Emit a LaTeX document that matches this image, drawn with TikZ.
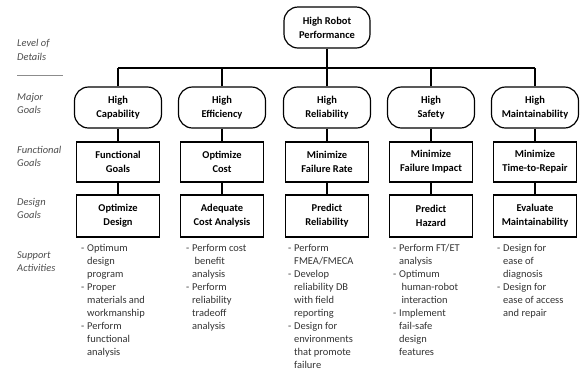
\documentclass[tikz,border=0pt]{standalone}
\usepackage{fontspec}
\setmainfont{Carlito}
\newcommand\dl{\makebox[6bp][l]{-}}
\newcommand\cl{\hspace*{6bp}}
\begin{document}
\begin{tikzpicture}[x=1bp,y=-1bp,
  goal/.style={draw=black,line width=1.2bp,rounded corners=14bp,minimum width=87bp,minimum height=41bp,align=center,inner sep=1bp,font=\bfseries\fontsize{10.5}{14}\selectfont},
  topgoal/.style={goal,minimum width=86bp},
  boxn/.style={draw=black,line width=1.2bp,minimum width=83bp,minimum height=40bp,align=center,inner sep=1bp,font=\bfseries\fontsize{10.5}{14}\selectfont},
  lvl/.style={anchor=west,align=left,inner sep=0pt,text=black!70,font=\itshape\fontsize{10.5}{13.5}\selectfont},
  sup/.style={anchor=north west,align=left,inner sep=0pt,text=black!80,font=\fontsize{10.5}{13}\selectfont},
  conn/.style={line width=1.2bp}]
\useasboundingbox (0,0) rectangle (580,371);
\node[topgoal] (top) at (327,27.5) {High Robot\\Performance};
\node[goal] (m1) at (118,107.5) {High\\Capability};
\node[goal] (m2) at (222,107.5) {High\\Efficiency};
\node[goal] (m3) at (327,107.5) {High\\Reliability};
\node[goal] (m4) at (431,107.5) {High\\Safety};
\node[goal] (m5) at (535,107.5) {High\\Maintainability};
\node[boxn] (f1) at (118,162) {Functional\\Goals};
\node[boxn] (f2) at (222,162) {Optimize\\Cost};
\node[boxn] (f3) at (327,162) {Minimize\\Failure Rate};
\node[boxn] (f4) at (431,162) {Minimize\\Failure Impact};
\node[boxn] (f5) at (535,162) {Minimize\\Time-to-Repair};
\node[boxn,minimum height=42bp] (d1) at (118,216) {Optimize\\Design};
\node[boxn,minimum height=42bp] (d2) at (222,216) {Adequate\\Cost Analysis};
\node[boxn,minimum height=42bp] (d3) at (327,216) {Predict\\Reliability};
\node[boxn,minimum height=42bp] (d4) at (431,216) {Predict\\Hazard};
\node[boxn,minimum height=42bp] (d5) at (535,216) {Evaluate\\Maintainability};
\coordinate (busL) at (118,68);
\coordinate (busR) at (535,68);
\draw[conn] (busL) -- (busR);
\draw[conn] (top.south) -- (top.south |- busL);
\foreach \i in {1,...,5}{
  \draw[conn] (m\i.north) -- (m\i.north |- busL);
  \draw[conn] (m\i.south) -- (f\i.north);
  \draw[conn] (f\i.south) -- (d\i.north);
}
\node[lvl] (l1) at (17,50) {Level of\\Details};
\coordinate (sepL) at (17,75);
\coordinate (sepR) at (63,75);
\draw[black!45,line width=1bp] (sepL) -- (sepR);
\node[lvl] (l2) at (17,103.5) {Major\\Goals};
\node[lvl] (l3) at (17,156.5) {Functional\\Goals};
\node[lvl] (l4) at (17,208.5) {Design\\Goals};
\node[lvl] (l5) at (17,261.5) {Support\\Activities};
\node[sup] (s1) at (81,244.5) {\dl Optimum\\\cl design\\\cl program\\\dl Proper\\\cl materials and\\\cl workmanship\\\dl Perform\\\cl functional\\\cl analysis};
\node[sup] (s2) at (186,244.5) {\dl Perform cost\\\cl\ benefit\\\cl analysis\\\dl Perform\\\cl reliability\\\cl tradeoff\\\cl analysis};
\node[sup] (s3) at (288,244.5) {\dl Perform\\\cl FMEA/FMECA\\\dl Develop\\\cl reliability DB\\\cl with field\\\cl reporting\\\dl Design for\\\cl environments\\\cl that promote\\\cl failure};
\node[sup] (s4) at (393,244.5) {\dl Perform FT/ET\\\cl analysis\\\dl Optimum\\\cl\ human-robot\\\cl\ interaction\\\dl Implement\\\cl fail-safe\\\cl design\\\cl features};
\node[sup] (s5) at (497,244.5) {\dl Design for\\\cl ease of\\\cl diagnosis\\\dl Design for\\\cl ease of access\\\cl and repair};
\end{tikzpicture}
\end{document}
